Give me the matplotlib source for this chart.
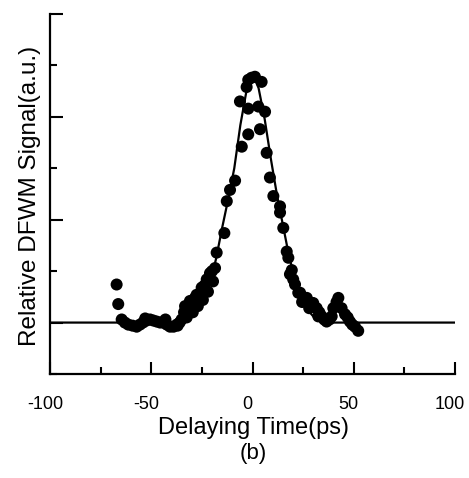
import numpy as np
import matplotlib
matplotlib.use("Agg")
import matplotlib.pyplot as plt
import matplotlib.transforms as mtransforms

plt.rcParams["font.family"] = ["Liberation Sans", "DejaVu Sans"]
plt.rcParams["axes.unicode_minus"] = False

# measured DFWM points (delay in ps, relative signal)
delay = [-67.1, -66.3, -64.6, -63.0, -61.3, -59.2, -57.2, -55.6, -54.1, -52.3, -50.6,
         -49.0, -47.3, -45.6, -44.0, -42.3, -40.7, -39.0, -37.4, -36.0, -35.0, -33.8,
         -33.3, -31.7, -30.9, -30.0, -29.0, -28.4, -27.6, -26.0, -25.1, -23.8, -22.6,
         -21.0, -20.0, -18.5, -17.7, -13.9, -12.7, -11.1, -8.6, -6.2, -5.3, -2.9,
         -2.1, -2.1, -2.1, -0.5, 1.2, 2.9, 3.7, 4.5, 6.2, 7.0, 8.6, 10.3, 13.6, 13.6,
         15.2, 16.9, 17.7, 18.5, 19.4, 20.1, 21.0, 22.6, 23.5, 25.9, 26.8, 29.2, 30.0,
         31.7, 33.0, 34.2, 35.4, 36.6, 38.0, 39.1, 39.9, 41.5, 42.4, 44.0, 45.7, 47.0,
         48.1, 49.3, 50.6, 52.2,
         -32.5, -29.5, -27.0, -24.5, -22.0, -19.5, -37.0, -43.0, -53.0, 24.5, 28.0, 32.5]
signal = [0.37, 0.18, 0.03, 0.00, -0.02, -0.03, -0.04, -0.02, 0.00, 0.02, 0.03,
          0.02, 0.01, 0.00, 0.00, -0.02, -0.04, -0.04, -0.02, 0.00, 0.03, 0.10,
          0.16, 0.16, 0.21, 0.19, 0.22, 0.24, 0.27, 0.28, 0.34, 0.36, 0.42,
          0.48, 0.50, 0.53, 0.68, 0.87, 1.18, 1.29, 1.38, 2.15, 1.71, 2.29,
          2.36, 2.08, 1.83, 2.38, 2.39, 2.10, 1.88, 2.34, 2.05, 1.65, 1.41, 1.23, 1.13, 1.07,
          0.92, 0.69, 0.63, 0.47, 0.51, 0.42, 0.37, 0.29, 0.29, 0.24, 0.24, 0.19, 0.19,
          0.14, 0.10, 0.06, 0.03, 0.01, 0.03, 0.06, 0.14, 0.20, 0.24, 0.14, 0.08, 0.05,
          0.01, -0.02, -0.04, -0.08,
          0.05, 0.10, 0.16, 0.22, 0.30, 0.40, -0.03, 0.03, 0.04, 0.20, 0.14, 0.06]

# fitted curve
fit_x = [-100, -40, -36, -33, -30, -27, -24, -21, -18, -15, -12, -9, -6, -3, 0,
         3, 6, 9, 12, 15, 18, 21, 24, 27, 30, 33, 36, 40, 100]
fit_y = [0.0, 0.0, 0.01, 0.02, 0.06, 0.12, 0.22, 0.38, 0.62, 0.92, 1.2, 1.5, 1.92, 2.25, 2.42,
         2.28, 1.98, 1.6, 1.25, 0.95, 0.65, 0.42, 0.25, 0.13, 0.06, 0.02, 0.01, 0.0, 0.0]

fig = plt.figure(figsize=(4.69, 4.78), dpi=100)
ax = fig.add_axes([50 / 469, 104 / 478, 405 / 469, 360 / 478])

ax.plot(fit_x, fit_y, color="black", lw=1.6, zorder=2)
ax.scatter(delay, signal, s=75, color="black", edgecolors="none", zorder=3)

ax.set_xlim(-100, 100)
ax.set_ylim(-0.5, 3.0)
ax.set_xticks([-100, -50, 0, 50, 100])
ax.set_xticks([-75, -25, 25, 75], minor=True)
ax.set_yticks([0, 1, 2, 3])
ax.set_yticks([-0.5, 0.5, 1.5, 2.5], minor=True)
ax.set_yticklabels([])
ax.tick_params(which="both", direction="in", width=1.5, color="black")
ax.tick_params(which="major", length=9)
ax.tick_params(which="minor", length=5)
ax.tick_params(axis="x", labelsize=13, pad=16)
shift = mtransforms.ScaledTranslation(-5 / 100, 0, fig.dpi_scale_trans)
for lab in ax.get_xticklabels():
    lab.set_transform(lab.get_transform() + shift)
for s in ["top", "right"]:
    ax.spines[s].set_visible(False)
for s in ["left", "bottom"]:
    ax.spines[s].set_linewidth(1.6)

fig.text(30 / 469, 1 - 196 / 478, "Relative DFWM Signal(a.u.)", rotation=90,
         ha="center", va="center", fontsize=17.5)
fig.text(253 / 469, 1 - 428 / 478, "Delaying Time(ps)", ha="center", va="center",
         fontsize=17)
fig.text(253 / 469, 1 - 454 / 478, "(b)", ha="center", va="center", fontsize=16)

fig.savefig("out.png", dpi=100)
